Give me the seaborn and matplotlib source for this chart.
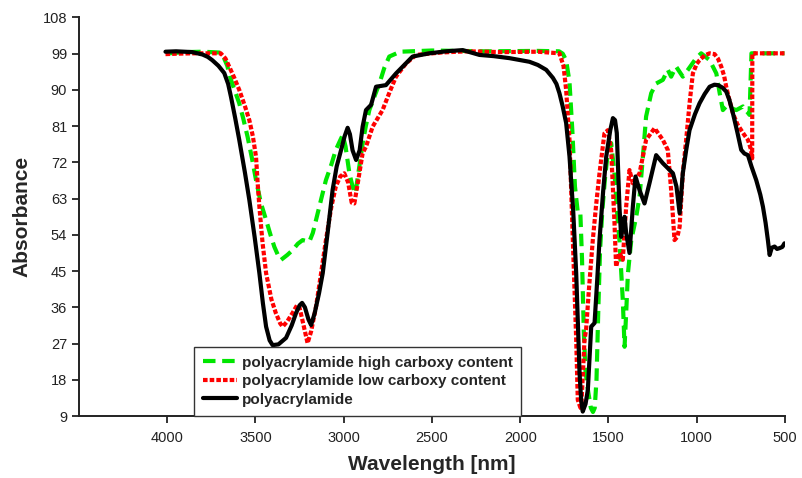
import matplotlib
matplotlib.use('Agg')
import matplotlib.pyplot as plt
import seaborn as sns
import pandas as pd

# black: polyacrylamide
wl_pam = [4010, 3950, 3858, 3800, 3770, 3745, 3710, 3677, 3655, 3639, 3615, 3592, 3560, 3535,
          3505, 3478, 3458, 3440, 3420, 3403, 3370, 3327, 3295, 3270, 3250, 3236, 3220, 3200,
          3185, 3165, 3140, 3119, 3090, 3063, 3040, 3015, 2995, 2978, 2965, 2950, 2930, 2910,
          2893, 2874, 2845, 2817, 2761, 2704, 2610, 2515, 2420, 2326, 2231, 2150, 2061, 1948,
          1900, 1853, 1815, 1795, 1778, 1760, 1740, 1721, 1700, 1683, 1672, 1664, 1655, 1646,
          1630, 1617, 1598, 1579, 1565, 1551, 1530, 1513, 1490, 1475, 1463, 1453, 1438, 1428,
          1418, 1409, 1400, 1381, 1362, 1347, 1324, 1296, 1268, 1230, 1192, 1135, 1115, 1097,
          1079, 1060, 1041, 1010, 984, 955, 927, 900, 880, 855, 833, 815, 795, 770, 748, 730,
          710, 690, 663, 640, 625, 610, 597, 587, 575, 559, 545, 531, 515, 503]
abs_pam = [99.5, 99.6, 99.4, 98.8, 98.2, 97.4, 96.0, 94.2, 91.5, 88.3, 83.0, 77.6, 69.5, 62.7,
           53.5, 44.5, 37.0, 31.2, 27.8, 26.6, 26.8, 28.4, 31.5, 34.6, 36.5, 37.1, 36.0, 33.0,
           31.6, 34.5, 39.5, 44.5, 55.0, 65.2, 71.0, 75.1, 78.5, 80.6, 79.0, 75.0, 72.6, 75.0,
           80.9, 85.0, 86.3, 90.8, 91.2, 94.1, 98.3, 99.1, 99.6, 99.9, 98.7, 98.4, 97.9, 97.0,
           96.2, 95.0, 93.0, 91.5, 89.2, 86.0, 81.8, 73.5, 60.0, 44.5, 30.0, 19.7, 13.0, 10.1,
           12.0, 15.5, 31.2, 32.1, 42.0, 52.7, 65.0, 73.4, 80.0, 83.0, 82.5, 79.3, 61.0, 53.5,
           57.0, 58.5, 54.5, 49.5, 61.0, 68.5, 65.1, 61.8, 66.8, 73.8, 71.8, 69.3, 66.0, 59.4,
           69.3, 75.0, 80.0, 84.0, 86.7, 89.0, 90.8, 91.3, 91.2, 90.6, 89.6, 87.5, 84.2, 79.5, 75.1, 74.2,
           73.8, 71.0, 67.6, 64.0, 61.0, 57.0, 52.7, 49.0, 50.8, 51.1, 50.5, 50.7, 51.0, 51.9]

# red: low carboxy content
wl_low = [4010, 3950, 3858, 3697, 3670, 3649, 3620, 3592, 3560, 3535, 3515, 3497, 3488, 3478,
          3460, 3440, 3410, 3385, 3360, 3346, 3320, 3290, 3265, 3252, 3230, 3205, 3185, 3157,
          3130, 3101, 3070, 3045, 3020, 2997, 2975, 2955, 2940, 2920, 2893, 2874, 2836, 2780,
          2740, 2704, 2647, 2590, 2450, 2300, 2100, 1900, 1778, 1755, 1740, 1721, 1702, 1683,
          1674, 1655, 1636, 1627, 1610, 1589, 1570, 1551, 1523, 1504, 1485, 1466, 1457, 1438,
          1419, 1400, 1381, 1362, 1324, 1287, 1239, 1192, 1164, 1145, 1126, 1110, 1097, 1079,
          1060, 1040, 1022, 1000, 984, 955, 927, 899, 880, 861, 845, 833, 815, 795, 770, 748,
          730, 710, 695, 686, 685, 503]
abs_low = [98.9, 99.0, 99.1, 99.1, 97.8, 95.8, 93.0, 90.0, 86.0, 82.5, 78.5, 73.4, 67.0, 61.0,
           52.0, 44.5, 38.0, 34.6, 32.0, 31.2, 32.5, 34.6, 36.5, 36.2, 32.0, 27.1, 30.0, 36.2,
           44.0, 52.7, 61.0, 66.0, 68.5, 69.3, 67.0, 62.0, 61.8, 67.0, 74.3, 75.9, 80.9, 85.0,
           89.5, 93.3, 96.6, 98.7, 99.3, 99.6, 99.4, 99.5, 99.1, 96.0, 90.0, 77.6, 52.7, 27.9,
           13.0, 10.5, 27.9, 30.4, 41.0, 52.7, 61.5, 69.3, 79.2, 80.0, 75.1, 56.9, 46.1, 49.5,
           47.8, 61.0, 70.1, 66.8, 69.3, 77.6, 80.5, 77.6, 75.1, 65.1, 52.7, 53.5, 56.0, 69.3,
           77.6, 87.0, 94.1, 96.5, 97.4, 98.6, 99.1, 98.9, 97.8, 95.8, 93.5, 90.8, 87.5, 84.2, 81.5, 80.0,
           78.8, 77.6, 75.5, 73.0, 99.1, 99.1]

# green: high carboxy content
wl_high = [3990, 3900, 3800, 3705, 3686, 3660, 3639, 3615, 3592, 3570, 3545, 3520, 3497, 3470,
           3440, 3415, 3393, 3370, 3355, 3320, 3290, 3260, 3233, 3195, 3175, 3157, 3130, 3101,
           3070, 3045, 3020, 3006, 2990, 2968, 2950, 2934, 2915, 2893, 2875, 2855, 2825, 2798,
           2770, 2742, 2680, 2500, 2200, 1900, 1780, 1759, 1740, 1721, 1705, 1690, 1675, 1660,
           1650, 1640, 1630, 1615, 1600, 1588, 1578, 1568, 1558, 1548, 1535, 1520, 1505, 1485,
           1466, 1447, 1438, 1419, 1409, 1400, 1390, 1371, 1343, 1324, 1305, 1287, 1258, 1230,
           1192, 1164, 1145, 1117, 1079, 1050, 1003, 975, 927, 889, 870, 852, 833, 776, 738,
           701, 690, 503]
abs_high = [99.1, 99.4, 99.5, 99.3, 98.7, 96.0, 92.5, 89.5, 86.7, 83.0, 78.4, 73.0, 67.6, 62.0,
            57.7, 54.0, 51.0, 48.7, 47.8, 49.0, 50.2, 51.8, 52.7, 52.3, 54.5, 57.7, 62.5, 67.6,
            71.5, 75.1, 77.5, 78.8, 76.0, 69.3, 66.0, 64.3, 70.0, 76.7, 81.0, 85.0, 88.5, 91.6,
            95.5, 98.3, 99.5, 99.8, 99.6, 99.7, 99.6, 99.0, 97.4, 92.0, 80.0, 66.0, 60.0, 60.0,
            48.0, 30.0, 20.0, 15.0, 11.0, 10.0, 11.0, 18.0, 35.0, 50.0, 60.0, 68.0, 74.0, 76.8,
            69.3, 56.9, 52.7, 37.8, 26.2, 34.5, 44.4, 52.7, 58.5, 63.5, 73.4, 83.4, 89.2, 91.6,
            92.5, 95.0, 93.3, 95.8, 93.3, 95.0, 97.9, 99.1, 97.4, 94.1, 89.2, 85.0, 85.9, 85.0, 85.9,
            83.8, 99.1, 99.1]

labels = ['polyacrylamide high carboxy content', 'polyacrylamide low carboxy content', 'polyacrylamide']
x_ticks = [4000, 3500, 3000, 2500, 2000, 1500, 1000, 500]
y_ticks = [9, 18, 27, 36, 45, 54, 63, 72, 81, 90, 99, 108]

sns.set_style('ticks')
plt.rcParams['font.family'] = ['Liberation Sans', 'DejaVu Sans']

fig = plt.figure(figsize=(8.02, 4.78), dpi=100)
ax = fig.add_axes([0.0985, 0.1297, 0.8803, 0.8337])

df_high = pd.DataFrame({'wl': wl_high, 'a': abs_high})
df_low = pd.DataFrame({'wl': wl_low, 'a': abs_low})
df_pam = pd.DataFrame({'wl': wl_pam, 'a': abs_pam})

sns.lineplot(data=df_high, x='wl', y='a', ax=ax, sort=False, estimator=None, color='#00e600',
             lw=3, linestyle=(0, (3, 1.6)), label=labels[0])
sns.lineplot(data=df_low, x='wl', y='a', ax=ax, sort=False, estimator=None, color='#ff0000',
             lw=3, linestyle=(0, (1.1, 0.5)), label=labels[1])
sns.lineplot(data=df_pam, x='wl', y='a', ax=ax, sort=False, estimator=None, color='black',
             lw=3, label=labels[2])

ax.set_xlim(4500, 500)
ax.set_ylim(9, 108)
ax.set_xticks(x_ticks)
ax.set_yticks(y_ticks)
ax.tick_params(direction='out', length=5, width=1.3, labelsize=10.5, colors='#222222')
ax.tick_params(axis='x', pad=6)
sns.despine(ax=ax)
for sp in ['left', 'bottom']:
    ax.spines[sp].set_linewidth(1.4)
    ax.spines[sp].set_color('#222222')

ax.set_xlabel('Wavelength [nm]', fontsize=15, fontweight='bold', labelpad=7)
ax.set_ylabel('Absorbance', fontsize=15, fontweight='bold', labelpad=8)

leg = ax.legend(loc='lower left', bbox_to_anchor=(0.1629, 0.0, 0.4632, 0.175), mode='expand',
                borderaxespad=0, fancybox=False, framealpha=1, edgecolor='#333333',
                handlelength=2.2, handletextpad=0.35, labelspacing=0.3,
                borderpad=0.6, prop={'weight': 'bold', 'size': 11})
leg.get_frame().set_linewidth(1.0)

fig.savefig('out.png', dpi=100)
